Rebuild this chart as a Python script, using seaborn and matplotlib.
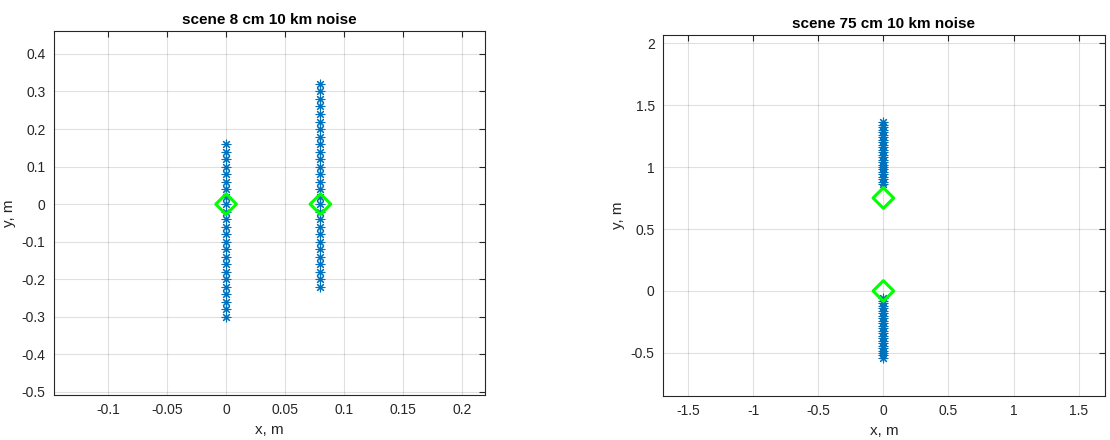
import matplotlib
matplotlib.use("Agg")
import matplotlib.pyplot as plt
import seaborn as sns
import pandas as pd
from matplotlib.ticker import FuncFormatter

# ---- data ----
left_title = "scene 8 cm 10 km noise"
right_title = "scene 75 cm 10 km noise"

left_a_x = 0.0
left_a_y = [-0.30, -0.28, -0.26, -0.24, -0.22, -0.20, -0.18, -0.16, -0.14, -0.12,
            -0.10, -0.08, -0.06, -0.04, -0.02, 0.00, 0.02, 0.04, 0.06, 0.08,
            0.10, 0.12, 0.14, 0.16]
left_b_x = 0.08
left_b_y = [-0.22, -0.20, -0.18, -0.16, -0.14, -0.12, -0.10, -0.08, -0.06, -0.04,
            -0.02, 0.00, 0.02, 0.04, 0.06, 0.08, 0.10, 0.12, 0.14, 0.16,
            0.18, 0.20, 0.22, 0.24, 0.26, 0.28, 0.30, 0.32]
left_targets_x = [0.0, 0.08]
left_targets_y = [0.0, 0.0]

right_a_x = 0.0
right_a_y = [-0.54, -0.52, -0.50, -0.48, -0.46, -0.44, -0.42, -0.40, -0.38, -0.36,
             -0.34, -0.32, -0.30, -0.28, -0.26, -0.24, -0.22, -0.20, -0.18, -0.16,
             -0.14, -0.12, -0.10, -0.08, -0.06]
right_b_x = 0.0
right_b_y = [0.86, 0.88, 0.90, 0.92, 0.94, 0.96, 0.98, 1.00, 1.02, 1.04,
             1.06, 1.08, 1.10, 1.12, 1.14, 1.16, 1.18, 1.20, 1.22, 1.24,
             1.26, 1.28, 1.30, 1.32, 1.34, 1.36]
right_targets_x = [0.0, 0.0]
right_targets_y = [0.0, 0.75]

left_xticks = [-0.1, -0.05, 0, 0.05, 0.1, 0.15, 0.2]
left_yticks = [-0.5, -0.4, -0.3, -0.2, -0.1, 0, 0.1, 0.2, 0.3, 0.4]
right_xticks = [-1.5, -1, -0.5, 0, 0.5, 1, 1.5]
right_yticks = [-0.5, 0, 0.5, 1, 1.5, 2]

# ---- style ----
sns.set_style("white")
plt.rcParams['font.family'] = ['Liberation Sans', 'DejaVu Sans']
plt.rcParams['axes.unicode_minus'] = False

BLUE = "#0072BD"
GREEN = "#00FF00"
AXC = "#262626"

fig = plt.figure(figsize=(11.1, 4.4), dpi=100)
ax1 = fig.add_axes([0.0486, 0.1023, 0.3883, 0.8273])
ax2 = fig.add_axes([0.5973, 0.1000, 0.3980, 0.8205])

def draw(ax, series, tx, ty):
    for xv, ys in series:
        df = pd.DataFrame({"x": [xv] * len(ys), "y": ys})
        sns.scatterplot(data=df, x="x", y="y", ax=ax, marker=(8, 2, 0), s=40,
                        color=BLUE, linewidth=0.8, zorder=3, legend=False)
    dft = pd.DataFrame({"x": tx, "y": ty})
    sns.scatterplot(data=dft, x="x", y="y", ax=ax, marker="D", s=110,
                    facecolor="none", edgecolor=GREEN, linewidth=2.2,
                    zorder=4, legend=False)

draw(ax1, [(left_a_x, left_a_y), (left_b_x, left_b_y)], left_targets_x, left_targets_y)
draw(ax2, [(right_a_x, right_a_y), (right_b_x, right_b_y)], right_targets_x, right_targets_y)

fmt = FuncFormatter(lambda v, p: "%g" % round(v, 6))

def style(ax, title, xt, yt, xlim, ylim):
    ax.set_xlim(*xlim)
    ax.set_ylim(*ylim)
    ax.set_xticks(xt)
    ax.set_yticks(yt)
    ax.xaxis.set_major_formatter(fmt)
    ax.yaxis.set_major_formatter(fmt)
    ax.grid(True, color="#000000", alpha=0.12, linewidth=0.8)
    ax.set_axisbelow(True)
    for s in ax.spines.values():
        s.set_color(AXC)
        s.set_linewidth(0.8)
        s.set_visible(True)
    ax.tick_params(direction="in", length=4, width=0.8, colors=AXC,
                   labelsize=10, top=True, right=True, labelcolor=AXC, pad=6)
    ax.set_xlabel("x, m", fontsize=11, color=AXC, labelpad=4)
    ax.set_ylabel("y, m", fontsize=11, color=AXC, labelpad=4)
    ax.set_title(title, fontsize=11, fontweight="bold", color="#000000", pad=5)

style(ax1, left_title, left_xticks, left_yticks, (-0.146, 0.2195), (-0.508, 0.461))
style(ax2, right_title, right_xticks, right_yticks, (-1.692, 1.70), (-0.847, 2.065))

fig.savefig("out.png", dpi=100)
